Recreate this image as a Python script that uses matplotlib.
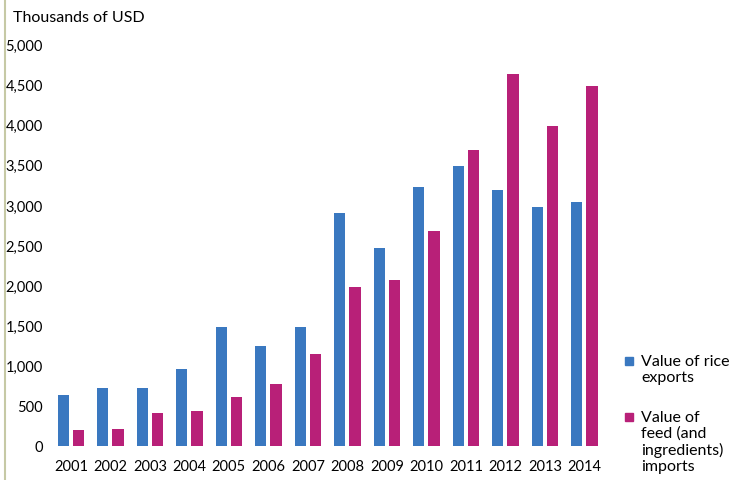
import numpy as np
import matplotlib
matplotlib.use('Agg')
import matplotlib.pyplot as plt
from matplotlib.lines import Line2D
from matplotlib.patches import Rectangle

plt.rcParams['font.family'] = ['Lato', 'DejaVu Sans']

years = ['2001', '2002', '2003', '2004', '2005', '2006', '2007',
         '2008', '2009', '2010', '2011', '2012', '2013', '2014']
rice_exports = [630, 720, 720, 950, 1478, 1235, 1478,
                2900, 2460, 3220, 3490, 3190, 2970, 3030]
feed_imports = [193, 205, 405, 434, 600, 763, 1145,
                1976, 2064, 2672, 3685, 4636, 3984, 4486]
series_labels = ['Value of rice\nexports', 'Value of\nfeed (and\ningredients)\nimports']

BLUE = '#3a78c0'
MAGENTA = '#b82078'

W, H = 733, 481
fig = plt.figure(figsize=(W / 100, H / 100), dpi=100)

# axes placed in pixel terms
left, right, bottom, top = 51.1, 604.1, 446.5, 45.5
ax = fig.add_axes([left / W, 1 - bottom / H, (right - left) / W, (bottom - top) / H])

x = np.arange(len(years))
bw = 0.286
off = 0.19
ax.bar(x - off, rice_exports, width=bw, color=BLUE)
ax.bar(x + off, feed_imports, width=bw, color=MAGENTA)

ax.set_xlim(-0.5, len(years) - 0.5)
ax.set_ylim(0, 5000)
ax.set_yticks(np.arange(0, 5001, 500))
ax.set_yticklabels([f'{v:,}' for v in range(0, 5001, 500)])
ax.set_xticks(x)
ax.set_xticklabels(years)
ax.tick_params(axis='both', length=0, labelsize=10.5, colors='black')
ax.tick_params(axis='y', pad=6)
ax.tick_params(axis='x', pad=10)
for s in ax.spines.values():
    s.set_visible(False)

fig.text(13 / W, 1 - 18 / H, 'Thousands of USD', fontsize=11.5, va='center', ha='left')

# legend drawn by hand (squares + wrapped labels)
for col, lab, ytop in zip([BLUE, MAGENTA], series_labels, [358, 414]):
    fig.add_artist(Rectangle((625 / W, 1 - (ytop + 8) / H), 8 / W, 8 / H,
                             transform=fig.transFigure, color=col))
    fig.text(641 / W, 1 - (ytop - 3) / H, lab, fontsize=11.5, va='top', ha='left',
             linespacing=1.15)

# thin page border on the left
fig.add_artist(Line2D([4.5 / W, 4.5 / W], [0, 1], color='#c6c9a5', lw=1.5))

fig.savefig('out.png', dpi=100)
